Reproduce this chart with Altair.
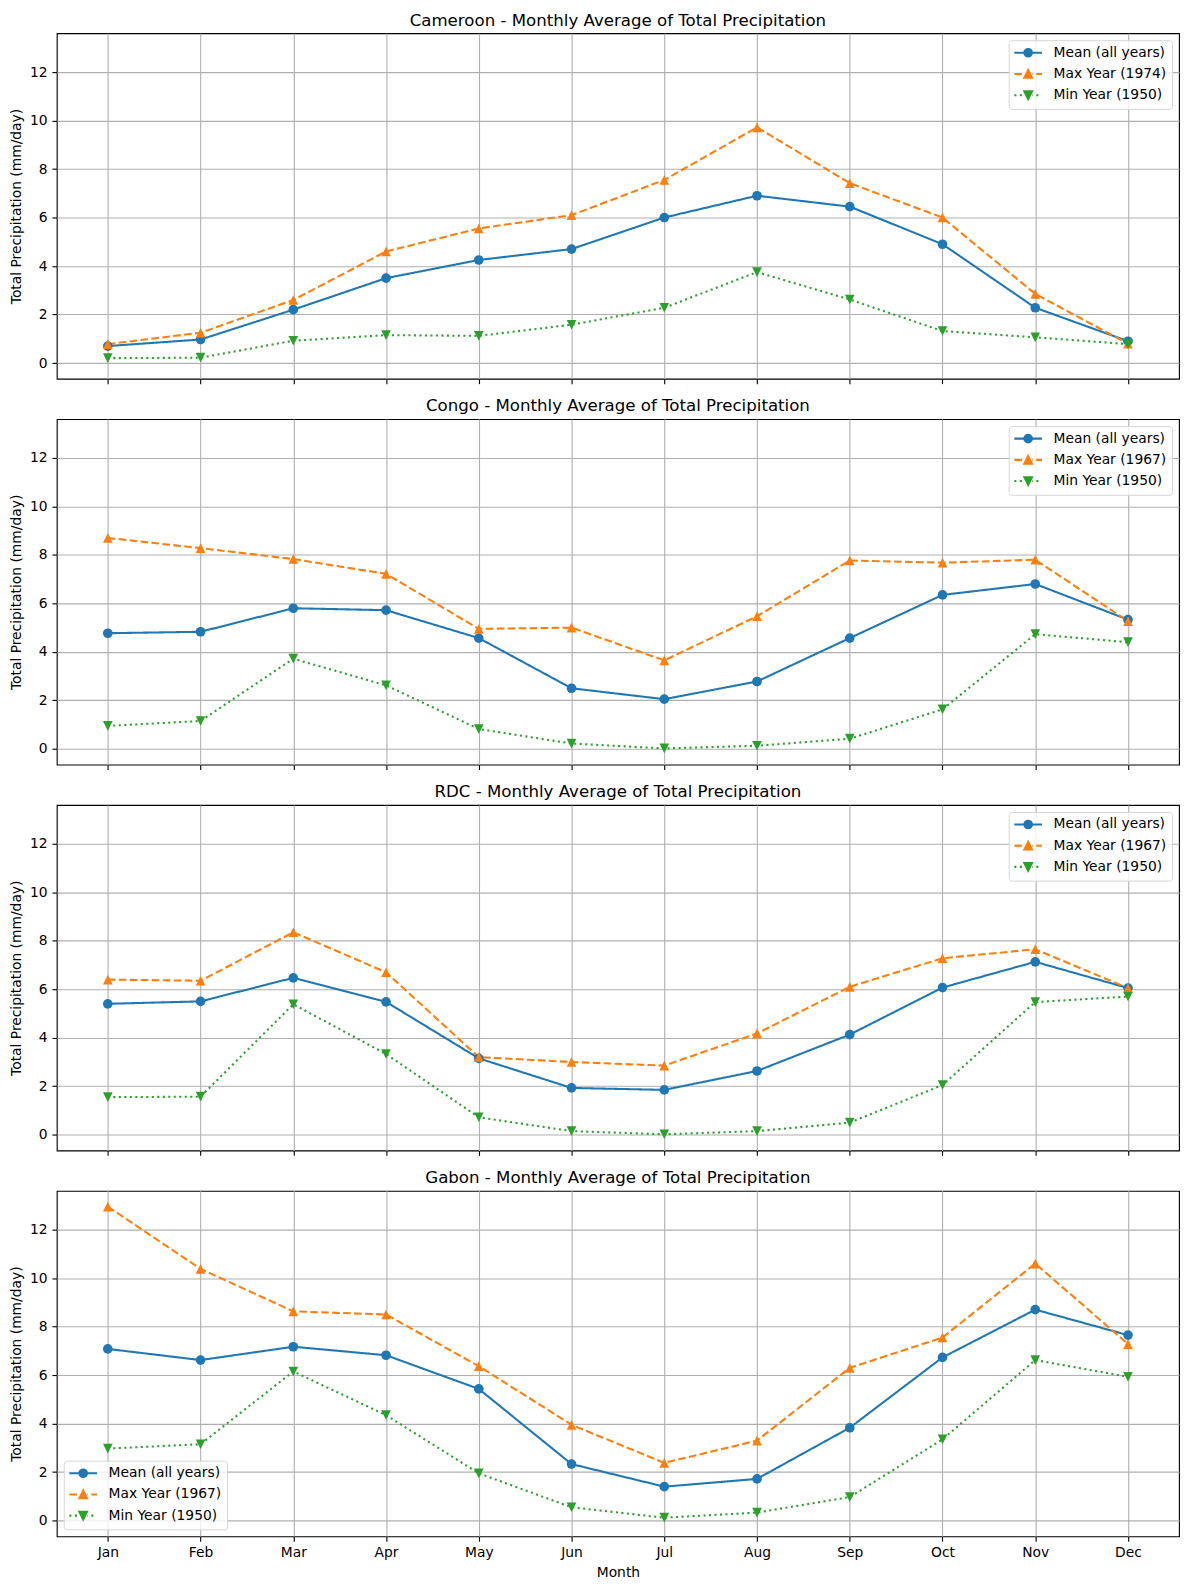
import json
import altair as alt
import pandas as pd

months = ["Jan", "Feb", "Mar", "Apr", "May", "Jun", "Jul", "Aug", "Sep", "Oct", "Nov", "Dec"]
countries = ["Cameroon", "Congo", "RDC", "Gabon"]
max_years = [1974, 1967, 1967, 1967]
min_years = [1950, 1950, 1950, 1950]

cameroon_mean = [0.70, 0.97, 2.20, 3.50, 4.25, 4.70, 6.00, 6.90, 6.45, 4.90, 2.28, 0.90]
cameroon_max = [0.78, 1.25, 2.60, 4.60, 5.55, 6.10, 7.55, 9.72, 7.42, 6.00, 2.85, 0.80]
cameroon_min = [0.20, 0.22, 0.92, 1.15, 1.12, 1.58, 2.28, 3.75, 2.62, 1.32, 1.06, 0.78]

congo_mean = [4.77, 4.83, 5.80, 5.72, 4.57, 2.50, 2.05, 2.78, 4.57, 6.35, 6.80, 5.33]
congo_max = [8.70, 8.28, 7.83, 7.22, 4.95, 5.00, 3.65, 5.47, 7.77, 7.68, 7.80, 5.27]
congo_min = [0.95, 1.15, 3.72, 2.62, 0.82, 0.22, 0.02, 0.13, 0.42, 1.63, 4.73, 4.40]

rdc_mean = [5.40, 5.50, 6.47, 5.48, 3.15, 1.93, 1.85, 2.63, 4.13, 6.07, 7.13, 6.05]
rdc_max = [6.40, 6.35, 8.35, 6.70, 3.20, 3.00, 2.85, 4.18, 6.10, 7.28, 7.65, 6.05]
rdc_min = [1.55, 1.57, 5.38, 3.33, 0.72, 0.15, 0.02, 0.15, 0.50, 2.05, 5.47, 5.70]

gabon_mean = [7.08, 6.62, 7.17, 6.82, 5.43, 2.33, 1.40, 1.72, 3.83, 6.73, 8.70, 7.65]
gabon_max = [12.95, 10.38, 8.63, 8.50, 6.37, 3.95, 2.38, 3.30, 6.30, 7.55, 10.60, 7.28]
gabon_min = [2.97, 3.15, 6.15, 4.35, 1.95, 0.55, 0.12, 0.33, 0.97, 3.35, 6.62, 5.93]

means = [cameroon_mean, congo_mean, rdc_mean, gabon_mean]
maxs = [cameroon_max, congo_max, rdc_max, gabon_max]
mins = [cameroon_min, congo_min, rdc_min, gabon_min]
legend_orients = ["top-right", "top-right", "top-right", "bottom-left"]

series_colors = ["#1f77b4", "#ff7f0e", "#2ca02c"]
dash_patterns = [[1, 0], [7.7, 3.33], [2.08, 3.44]]
marker_paths = ["circle", "M0,-1L-1,1L1,1Z", "M0,1L-1,-1L1,-1Z"]
legend_paths = [
    "M-2.417,0H2.417M0.664,0A0.664,0.664,0,1,1,-0.664,0A0.664,0.664,0,1,1,0.664,0Z",
    "M-2.417,0H-1.078M0.73,0H0.84M1.419,0H2.417M0,-0.666L-0.666,0.666L0.666,0.666Z",
    "M-2.417,0H-2.056M-1.457,0H-1.096M0.73,0H0.824M1.423,0H1.784M0,0.666L-0.666,-0.666L0.666,-0.666Z",
]

FONT = "DejaVu Sans"
label_expr = json.dumps(months) + "[datum.value]"


def make_legend(orient):
    return alt.Legend(
        title=None, orient=orient, offset=7, padding=5.6,
        fillColor="rgba(255,255,255,0.8)", strokeColor="#d6d6d6", cornerRadius=3,
        symbolSize=132.25, symbolStrokeWidth=2.08, symbolOffset=6.9, symbolOpacity=1,
        labelOffset=18.5, labelFont=FONT, labelFontSize=13.9, labelColor="black",
        rowPadding=5.3, labelLimit=400,
    )


def panel(k):
    labels = ["Mean (all years)", f"Max Year ({max_years[k]})", f"Min Year ({min_years[k]})"]
    rows = []
    for s, vals in zip(labels, [means[k], maxs[k], mins[k]]):
        for i, m in enumerate(months):
            rows.append({"idx": i, "month": m, "series": s, "value": vals[i]})
    df = pd.DataFrame(rows)
    show_x = k == len(countries) - 1

    x_axis_kwargs = dict(values=list(range(12)), labelExpr=label_expr, labels=show_x, grid=True)
    x = alt.X("idx:Q", scale=alt.Scale(domain=[-0.55, 11.55], nice=False, zero=False),
              axis=alt.Axis(**x_axis_kwargs), title="Month" if show_x else None)
    y = alt.Y("value:Q", scale=alt.Scale(domain=[-0.65, 13.6], nice=False, zero=False),
              axis=alt.Axis(values=[0, 2, 4, 6, 8, 10, 12], grid=True),
              title="Total Precipitation (mm/day)")
    color = alt.Color("series:N", scale=alt.Scale(domain=labels, range=series_colors), legend=None)

    base = alt.Chart(df)
    lines = base.mark_line(strokeWidth=2.08).encode(
        x=x, y=y, color=color,
        strokeDash=alt.StrokeDash("series:N", scale=alt.Scale(domain=labels, range=dash_patterns), legend=None),
    )
    pts = base.mark_point(filled=True, opacity=1, size=94).encode(
        x=x, y=y, color=color,
        shape=alt.Shape("series:N", scale=alt.Scale(domain=labels, range=marker_paths), legend=None),
    )
    leg = make_legend(legend_orients[k])
    legend_layer = base.transform_filter("false").mark_point(filled=True, opacity=1, strokeWidth=2.08).encode(
        x=x, y=y,
        shape=alt.Shape("series:N", scale=alt.Scale(domain=labels, range=legend_paths), legend=leg),
        fill=alt.Fill("series:N", scale=alt.Scale(domain=labels, range=series_colors), legend=leg),
        stroke=alt.Stroke("series:N", scale=alt.Scale(domain=labels, range=series_colors), legend=leg),
    )
    return alt.layer(lines, pts, legend_layer).resolve_scale(
        shape="independent", stroke="independent", fill="independent"
    ).properties(
        width=1127, height=347,
        title=alt.TitleParams(
            text=f"{countries[k]} - Monthly Average of Total Precipitation",
            fontSize=16.7, font=FONT, fontWeight="normal", color="black", offset=4, anchor="middle",
        ),
    )


chart = alt.vconcat(*[panel(k) for k in range(4)], spacing=12.5).resolve_scale(
    color="independent", strokeDash="independent", shape="independent",
    stroke="independent", fill="independent",
).properties(
    padding={"left": 1, "top": 0, "right": 1, "bottom": 5}
).configure_view(
    stroke="black", strokeWidth=1.11
).configure_axis(
    domain=False, labelFont=FONT, labelFontSize=13.9, labelColor="black",
    titleFont=FONT, titleFontSize=13.9, titleFontWeight="normal", titleColor="black",
    tickColor="black", tickWidth=1.11, tickSize=4.86, labelPadding=4.86, titlePadding=5.56,
    gridColor="#b0b0b0", gridWidth=1.11, gridOpacity=1,
)

chart.save("out.html", embed_options={"renderer": "svg", "actions": False})
